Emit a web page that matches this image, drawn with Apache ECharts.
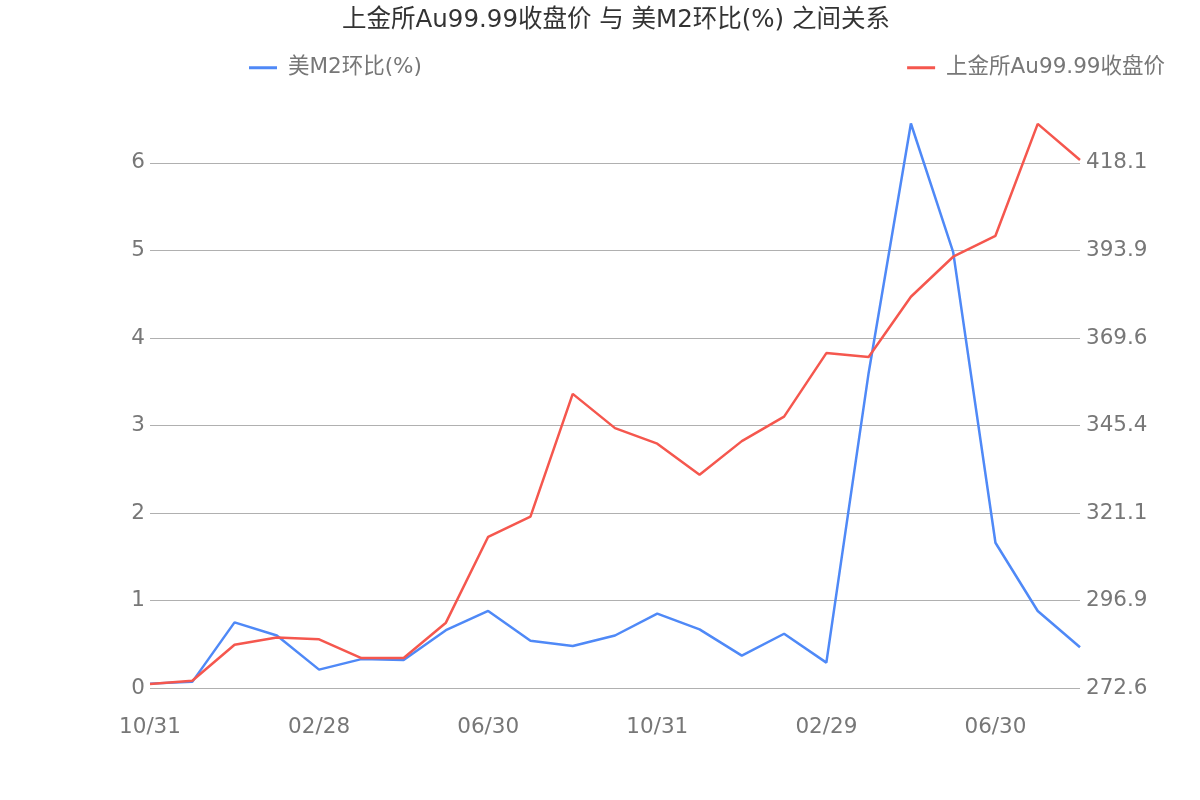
<!DOCTYPE html>
<html>
<head>
<meta charset="utf-8">
<script src="https://cdn.jsdelivr.net/npm/echarts@6/dist/echarts.min.js"></script>
<style>html,body{margin:0;padding:0;background:#fff}#c{width:1200px;height:800px}</style>
</head>
<body>
<div id="c"></div>
<script>
var categories = ['10/31','11/30','12/31','01/31','02/28','03/31','04/30','05/31','06/30','07/31','08/31','09/30',
  '10/31','11/30','12/31','01/31','02/29','03/31','04/30','05/31','06/30','07/31','08/31'];
var m2Values = [0.05,0.07,0.75,0.60,0.21,0.33,0.32,0.66,0.88,0.54,0.48,0.60,
  0.85,0.67,0.37,0.62,0.29,3.60,6.45,4.98,1.66,0.88,0.465];
var goldValues = [273.7,274.6,284.6,286.6,286.1,280.9,280.9,290.7,314.5,320.1,354.1,344.6,
  340.3,331.7,341.0,347.8,365.4,364.3,381.0,392.1,397.9,428.9,418.9];
var rightTickLabels = ['272.6','296.9','321.1','345.4','369.6','393.9','418.1'];
var leftMin = 0, leftInterval = 1, leftMax = 6.45;
var rightMin = 272.6, rightInterval = 24.25;
var rightMax = rightMin + leftMax / leftInterval * rightInterval;

var FONT = '"DejaVu Sans", "Noto Sans CJK SC", sans-serif';
var chart = echarts.init(document.getElementById('c'));
chart.setOption({
  animation: false,
  textStyle: {fontFamily: FONT},
  title: {
    text: '上金所Au99.99收盘价 与 美M2环比(%) 之间关系',
    left: 611, textAlign: 'center', top: 3,
    textStyle: {fontSize: 24.5, fontWeight: 'normal', color: '#333', fontFamily: FONT}
  },
  legend: [
    {data: ['美M2环比(%)'], left: 244, top: 52, itemWidth: 28, itemHeight: 3, icon: 'rect',
     textStyle: {fontSize: 21.5, color: '#777', fontFamily: FONT, padding: [0, 0, 0, 6]}},
    {data: ['上金所Au99.99收盘价'], right: 30, top: 52, itemWidth: 28, itemHeight: 3, icon: 'rect',
     textStyle: {fontSize: 21.5, color: '#777', fontFamily: FONT, padding: [0, 0, 0, 6]}}
  ],
  grid: {left: 150, right: 120, top: 123.5, bottom: 112, containLabel: false},
  xAxis: {
    type: 'category', data: categories, boundaryGap: false,
    axisLine: {show: false}, axisTick: {show: false},
    axisLabel: {interval: 3, fontSize: 21.5, color: '#777', margin: 29, fontFamily: FONT}
  },
  yAxis: [
    {type: 'value', min: leftMin, max: leftMax, interval: leftInterval, position: 'left',
     axisLine: {show: false}, axisTick: {show: false},
     axisLabel: {fontSize: 21.5, color: '#777', margin: 5, showMaxLabel: false, fontFamily: FONT,
       padding: [4, 0, 0, 0]},
     splitLine: {show: true, showMaxLine: false, lineStyle: {color: '#b0b0b0', width: 1}}},
    {type: 'value', min: rightMin, max: rightMax, interval: rightInterval, position: 'right',
     axisLine: {show: false}, axisTick: {show: false},
     axisLabel: {fontSize: 21.5, color: '#777', margin: 6, showMaxLabel: false, fontFamily: FONT,
       padding: [4, 0, 0, 0],
       formatter: function (v) {
         var i = Math.round((v - rightMin) / rightInterval);
         return rightTickLabels[i] !== undefined ? rightTickLabels[i] : '';
       }},
     splitLine: {show: false}}
  ],
  series: [
    {name: '美M2环比(%)', type: 'line', yAxisIndex: 0, data: m2Values, showSymbol: false,
     lineStyle: {color: '#4f89f7', width: 2.5}, itemStyle: {color: '#4f89f7'}},
    {name: '上金所Au99.99收盘价', type: 'line', yAxisIndex: 1, data: goldValues, showSymbol: false,
     lineStyle: {color: '#f5574e', width: 2.5}, itemStyle: {color: '#f5574e'}}
  ]
});
</script>
</body>
</html>
